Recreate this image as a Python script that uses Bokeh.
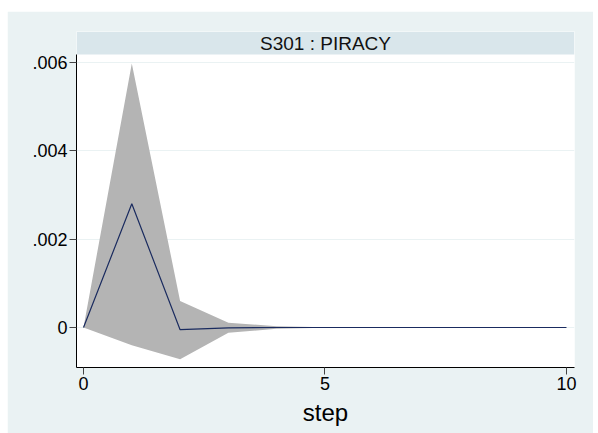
from bokeh.plotting import figure
from bokeh.embed import file_html
from bokeh.resources import INLINE
from bokeh.core.properties import value
from bokeh.models import FixedTicker, ColumnDataSource

steps = [0, 1, 2, 3, 4, 5, 6, 7, 8, 9, 10]
irf = [0.0, 0.0028, -0.00005, -0.00001, 0.0, 0.0, 0.0, 0.0, 0.0, 0.0, 0.0]
upper = [0.0, 0.00598, 0.00060, 0.00011, 0.00003, 0.000005, 0.0, 0.0, 0.0, 0.0, 0.0]
lower = [0.0, -0.00040, -0.00072, -0.00012, -0.00003, -0.000005, 0.0, 0.0, 0.0, 0.0, 0.0]
title_text = "S301 : PIRACY"
xticks = [0, 5, 10]
yticks = [0, 0.002, 0.004, 0.006]
ylabels = {0: "0", 0.002: ".002", 0.004: ".004", 0.006: ".006"}

PANEL = "#EAF2F3"
STRIP = "#D9E6EB"

x0, x1 = -0.145, 10.166
y0, y_strip, y1 = -0.000906, 0.006181, 0.006702

p = figure(width=586, height=422, output_backend="svg", toolbar_location=None,
           x_range=(x0, x1), y_range=(y0, y1),
           min_border_left=69, min_border_right=19, min_border_top=20,
           min_border_bottom=66, margin=(11, 5, 0, 7))
p.border_fill_color = PANEL
p.background_fill_color = "white"
p.outline_line_color = None

# strip title
p.quad(left=[x0], right=[x1], bottom=[y_strip], top=[y1], fill_color=STRIP, line_color=None)
p.text(x=[(x0 + x1) / 2], y=[(y_strip + y1) / 2], text=[title_text],
       text_font=value("Liberation Sans"), text_font_size="19px",
       text_align="center", text_baseline="middle", text_color="#111111")

# band and line
src = ColumnDataSource(dict(x=steps, irf=irf, lo=lower, hi=upper))
p.varea(x="x", y1="lo", y2="hi", source=src, fill_color="#B4B4B4")
p.line(x="x", y="irf", source=src, line_color="#1a2b5f", line_width=1.2)

# axes
p.xaxis.ticker = FixedTicker(ticks=xticks)
p.yaxis.ticker = FixedTicker(ticks=yticks)
p.yaxis.major_label_overrides = ylabels
p.yaxis.bounds = (y0, y_strip)
for ax in (p.xaxis, p.yaxis):
    ax.axis_line_color = "black"
    ax.axis_line_width = 1
    ax.major_tick_line_color = "#444444"
    ax.major_tick_out = 7
    ax.major_tick_in = 0
    ax.minor_tick_line_color = None
    ax.major_label_text_font = "Liberation Sans"
    ax.major_label_text_font_size = "18px"
    ax.major_label_text_color = "black"
p.yaxis.major_label_orientation = "horizontal"
p.yaxis.major_label_standoff = 2
p.xaxis.major_label_standoff = 2
p.xaxis.axis_label = "step"
p.xaxis.axis_label_text_font = "Liberation Sans"
p.xaxis.axis_label_text_font_size = "24px"
p.xaxis.axis_label_text_font_style = "normal"
p.xaxis.axis_label_text_color = "black"
p.xaxis.axis_label_standoff = 6

p.xgrid.visible = False
p.ygrid.grid_line_color = PANEL
p.ygrid.grid_line_width = 1
p.ygrid.bounds = (y0, y_strip)

open("out.html", "w").write(file_html(p, INLINE))
